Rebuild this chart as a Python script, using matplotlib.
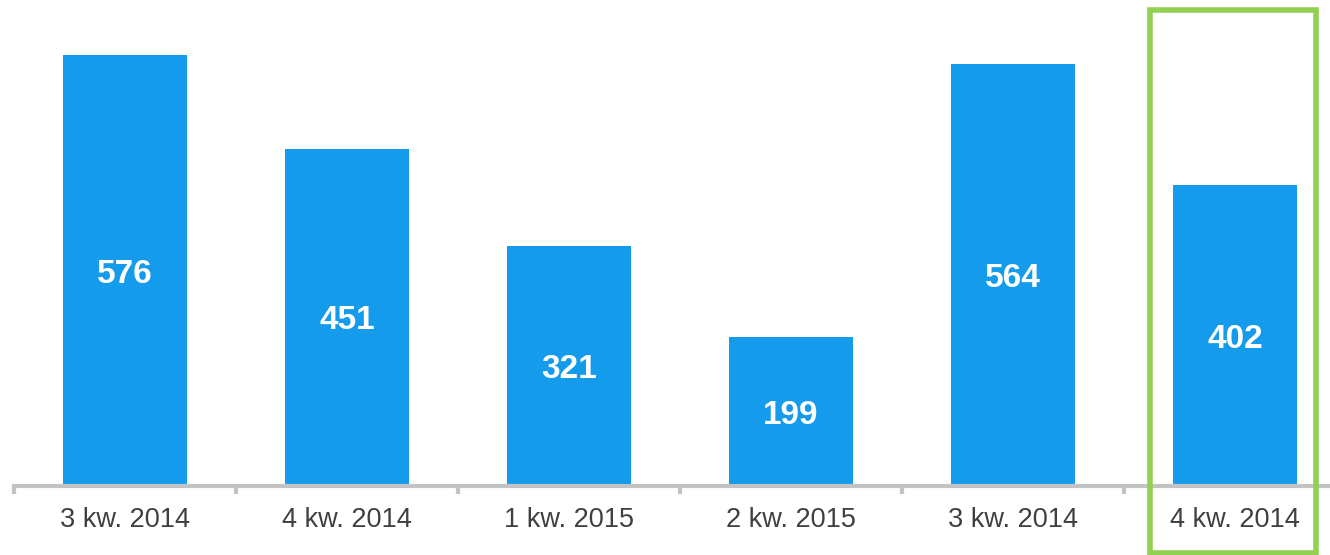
import matplotlib
matplotlib.use("Agg")
import matplotlib.pyplot as plt
from matplotlib.patches import Rectangle
from matplotlib.transforms import blended_transform_factory

plt.rcParams['font.family'] = ['Liberation Sans', 'DejaVu Sans']

categories = ["3 kw. 2014", "4 kw. 2014", "1 kw. 2015", "2 kw. 2015", "3 kw. 2014", "4 kw. 2014"]
values = [576, 451, 321, 199, 564, 402]
highlight = 5

bar_color = "#159beb"
axis_color = "#c3c3c3"

W, H = 1330, 555
fig = plt.figure(figsize=(W / 100, H / 100), dpi=100)
ax = fig.add_axes([14 / W, (H - 486) / H, (W - 14) / W, 486 / H])

x = list(range(len(values)))
ax.bar(x, values, width=0.555, color=bar_color, zorder=2)
for xi, v in zip(x, values):
    ax.text(xi, v / 2, str(v), ha="center", va="center_baseline", color="white",
            fontsize=24, fontweight="bold", zorder=3)

for s in ["top", "right", "left"]:
    ax.spines[s].set_visible(False)
ax.spines["bottom"].set_color(axis_color)
ax.spines["bottom"].set_linewidth(3)
ax.set_yticks([])

ax.set_xticks([i - 0.5 for i in range(len(values) + 1)])
ax.set_xticklabels([])
ax.set_xticks(x, minor=True)
ax.set_xticklabels(categories, minor=True, fontsize=19.5, color="#404040")
ax.tick_params(axis="x", which="major", direction="out", length=6, width=3, color=axis_color)
ax.tick_params(axis="x", which="minor", length=0, pad=15)

# limits after the ticks, so set_xticks does not widen them
ax.set_xlim(-0.5, -0.5 + (W - 14) / 222)
ax.set_ylim(0, 486 / 0.748)

# green frame around the last quarter
trans = blended_transform_factory(ax.transData, fig.transFigure)
box_w = 0.75
ax.add_patch(Rectangle((highlight - box_w / 2 - 0.01, 2 / H), box_w, (H - 12) / H,
                       transform=trans, fill=False, edgecolor="#92d050",
                       linewidth=4, clip_on=False, zorder=4))

fig.savefig("out.png", dpi=100)
